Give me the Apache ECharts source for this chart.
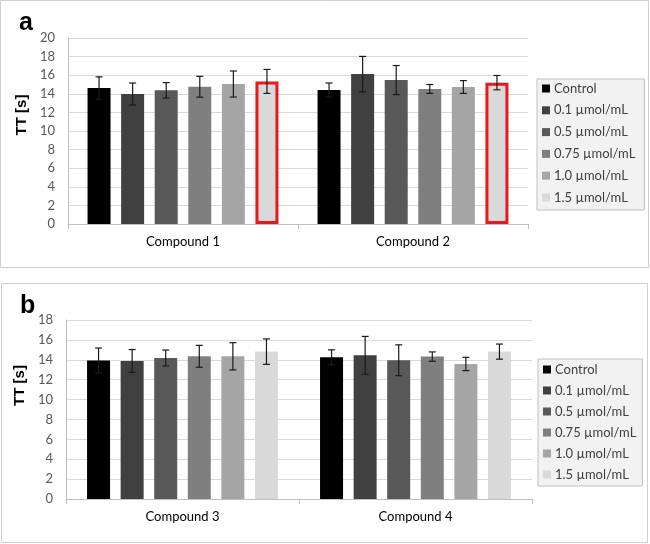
<!DOCTYPE html>
<html>
<head>
<meta charset="utf-8">
<script src="https://cdn.jsdelivr.net/npm/echarts@6/dist/echarts.min.js"></script>
<style>
html,body{margin:0;padding:0;background:#fff;}
#chart{width:650px;height:544px;}
</style>
</head>
<body>
<div id="chart"></div>
<script>
// ---- data ----
const concentrations = ['Control', '0.1 µmol/mL', '0.5 µmol/mL', '0.75 µmol/mL', '1.0 µmol/mL', '1.5 µmol/mL'];
const colors = ['#000000', '#404040', '#595959', '#7f7f7f', '#a5a5a5', '#d9d9d9'];

const compoundsA = ['Compound 1', 'Compound 2'];
const meanC1 = [14.62, 13.98, 14.37, 14.76, 15.05, 15.33];
const sdC1   = [1.20, 1.18, 0.83, 1.12, 1.40, 1.29];
const meanC2 = [14.41, 16.12, 15.48, 14.52, 14.73, 15.20];
const sdC2   = [0.75, 1.90, 1.56, 0.48, 0.69, 0.77];

const compoundsB = ['Compound 3', 'Compound 4'];
const meanC3 = [13.93, 13.88, 14.18, 14.35, 14.35, 14.82];
const sdC3   = [1.25, 1.15, 0.80, 1.10, 1.37, 1.28];
const meanC4 = [14.25, 14.45, 13.95, 14.32, 13.58, 14.82];
const sdC4   = [0.75, 1.90, 1.55, 0.47, 0.67, 0.76];

const yTicksA = { min: 0, max: 20, interval: 2 };
const yTicksB = { min: 0, max: 18, interval: 2 };
const yAxisTitle = 'TT [s]';
const highlighted = '1.5 µmol/mL'; // outlined in red in panel a

// ---- styles ----
const BAR_W = 23;
const BAR_GAP = 0.46;
const STEP = BAR_W * (1 + BAR_GAP);
const FONT = 'Lato';

const chart = echarts.init(document.getElementById('chart'), null, { renderer: 'canvas' });

function barSeries(gridIdx, meansList, redOutline) {
  return concentrations.map((name, i) => ({
    name: name,
    type: 'bar',
    xAxisIndex: gridIdx,
    yAxisIndex: gridIdx,
    barWidth: BAR_W,
    barGap: (BAR_GAP * 100) + '%',
    itemStyle: { color: colors[i] },
    emphasis: { disabled: true },
    data: meansList.map(m => {
      if (redOutline && name === highlighted) {
        return { value: m[i], itemStyle: { borderColor: '#e8181b', borderWidth: 3 } };
      }
      return m[i];
    })
  }));
}

function errorSeries(gridIdx, meansList, sdList) {
  const data = [];
  meansList.forEach((m, c) => {
    concentrations.forEach((_, i) => {
      data.push([c, i, m[i] - sdList[c][i], m[i] + sdList[c][i]]);
    });
  });
  return {
    type: 'custom',
    xAxisIndex: gridIdx,
    yAxisIndex: gridIdx,
    z: 10,
    silent: true,
    encode: { x: 0, y: [2, 3] },
    renderItem: function (params, api) {
      const c = api.value(0), i = api.value(1);
      const lo = api.coord([c, api.value(2)]);
      const hi = api.coord([c, api.value(3)]);
      const x = lo[0] + (i - 2.5) * STEP;
      const cap = 3.5;
      const st = { stroke: '#1a1a1a', lineWidth: 1.2 };
      return {
        type: 'group',
        children: [
          { type: 'line', shape: { x1: x, y1: lo[1], x2: x, y2: hi[1] }, style: st },
          { type: 'line', shape: { x1: x - cap, y1: hi[1], x2: x + cap, y2: hi[1] }, style: st },
          { type: 'line', shape: { x1: x - cap, y1: lo[1], x2: x + cap, y2: lo[1] }, style: st }
        ]
      };
    },
    data: data
  };
}

function xAxis(gridIdx, cats) {
  return {
    type: 'category',
    gridIndex: gridIdx,
    data: cats,
    axisLine: { lineStyle: { color: '#bfbfbf', width: 1 } },
    axisTick: { show: true, length: 5, lineStyle: { color: '#bfbfbf' } },
    axisLabel: { color: '#000', fontFamily: FONT, fontSize: 13, margin: 11 }
  };
}

function yAxis(gridIdx, t, shiftUp, gap) {
  return {
    type: 'value',
    gridIndex: gridIdx,
    min: t.min, max: t.max, interval: t.interval,
    name: yAxisTitle,
    nameLocation: 'middle',
    nameGap: gap,
    nameTextStyle: { fontFamily: 'Liberation Sans', fontWeight: 'bold', fontSize: 15, color: '#000', padding: [0, 0, 0, shiftUp * 2] },
    axisLine: { show: true, lineStyle: { color: '#bfbfbf', width: 1 } },
    axisTick: { show: false },
    axisLabel: { color: '#595959', fontFamily: FONT, fontSize: 13, margin: 13 },
    splitLine: { lineStyle: { color: '#d9d9d9', width: 1 } }
  };
}

function legend(left, top, gap, pad) {
  return {
    data: concentrations,
    orient: 'vertical',
    left: left, top: top,
    icon: 'rect',
    itemWidth: 8, itemHeight: 8,
    itemGap: gap,
    padding: pad,
    backgroundColor: '#f2f2f2',
    borderColor: '#bfbfbf',
    borderWidth: 1,
    selectedMode: false,
    itemStyle: { borderWidth: 0 },
    textStyle: { fontFamily: FONT, fontSize: 13, color: '#404040', lineHeight: 13, padding: [0, 0, 0, -1] }
  };
}

const option = {
  animation: false,
  backgroundColor: '#ffffff',
  grid: [
    { left: 68, right: 122, top: 38, height: 186 },
    { left: 66, right: 118, top: 320, height: 179 }
  ],
  xAxis: [xAxis(0, compoundsA), xAxis(1, compoundsB)],
  yAxis: [yAxis(0, yTicksA, 16, 32), yAxis(1, yTicksB, 24, 30)],
  legend: [
    legend(537, 79, 8.8, [3, 9, 6, 5]),
    legend(538, 359, 8, [4, 6, 5, 5])
  ],
  graphic: [
    { type: 'rect', shape: { x: 0.5, y: 0.5, width: 648, height: 267 }, style: { fill: 'none', stroke: '#cfcfcf', lineWidth: 1 }, silent: true, z: -1 },
    { type: 'rect', shape: { x: 1.5, y: 283.5, width: 646, height: 259 }, style: { fill: 'none', stroke: '#cfcfcf', lineWidth: 1 }, silent: true, z: -1 },
    { type: 'text', left: 19, top: 11, style: { text: 'a', font: 'bold 25px "Liberation Sans"', fill: '#000' }, silent: true },
    { type: 'text', left: 20, top: 294, style: { text: 'b', font: 'bold 25px "Liberation Sans"', fill: '#000' }, silent: true }
  ],
  series: [
    ...barSeries(0, [meanC1, meanC2], true),
    errorSeries(0, [meanC1, meanC2], [sdC1, sdC2]),
    ...barSeries(1, [meanC3, meanC4], false),
    errorSeries(1, [meanC3, meanC4], [sdC3, sdC4])
  ]
};

chart.setOption(option);
</script>
</body>
</html>
